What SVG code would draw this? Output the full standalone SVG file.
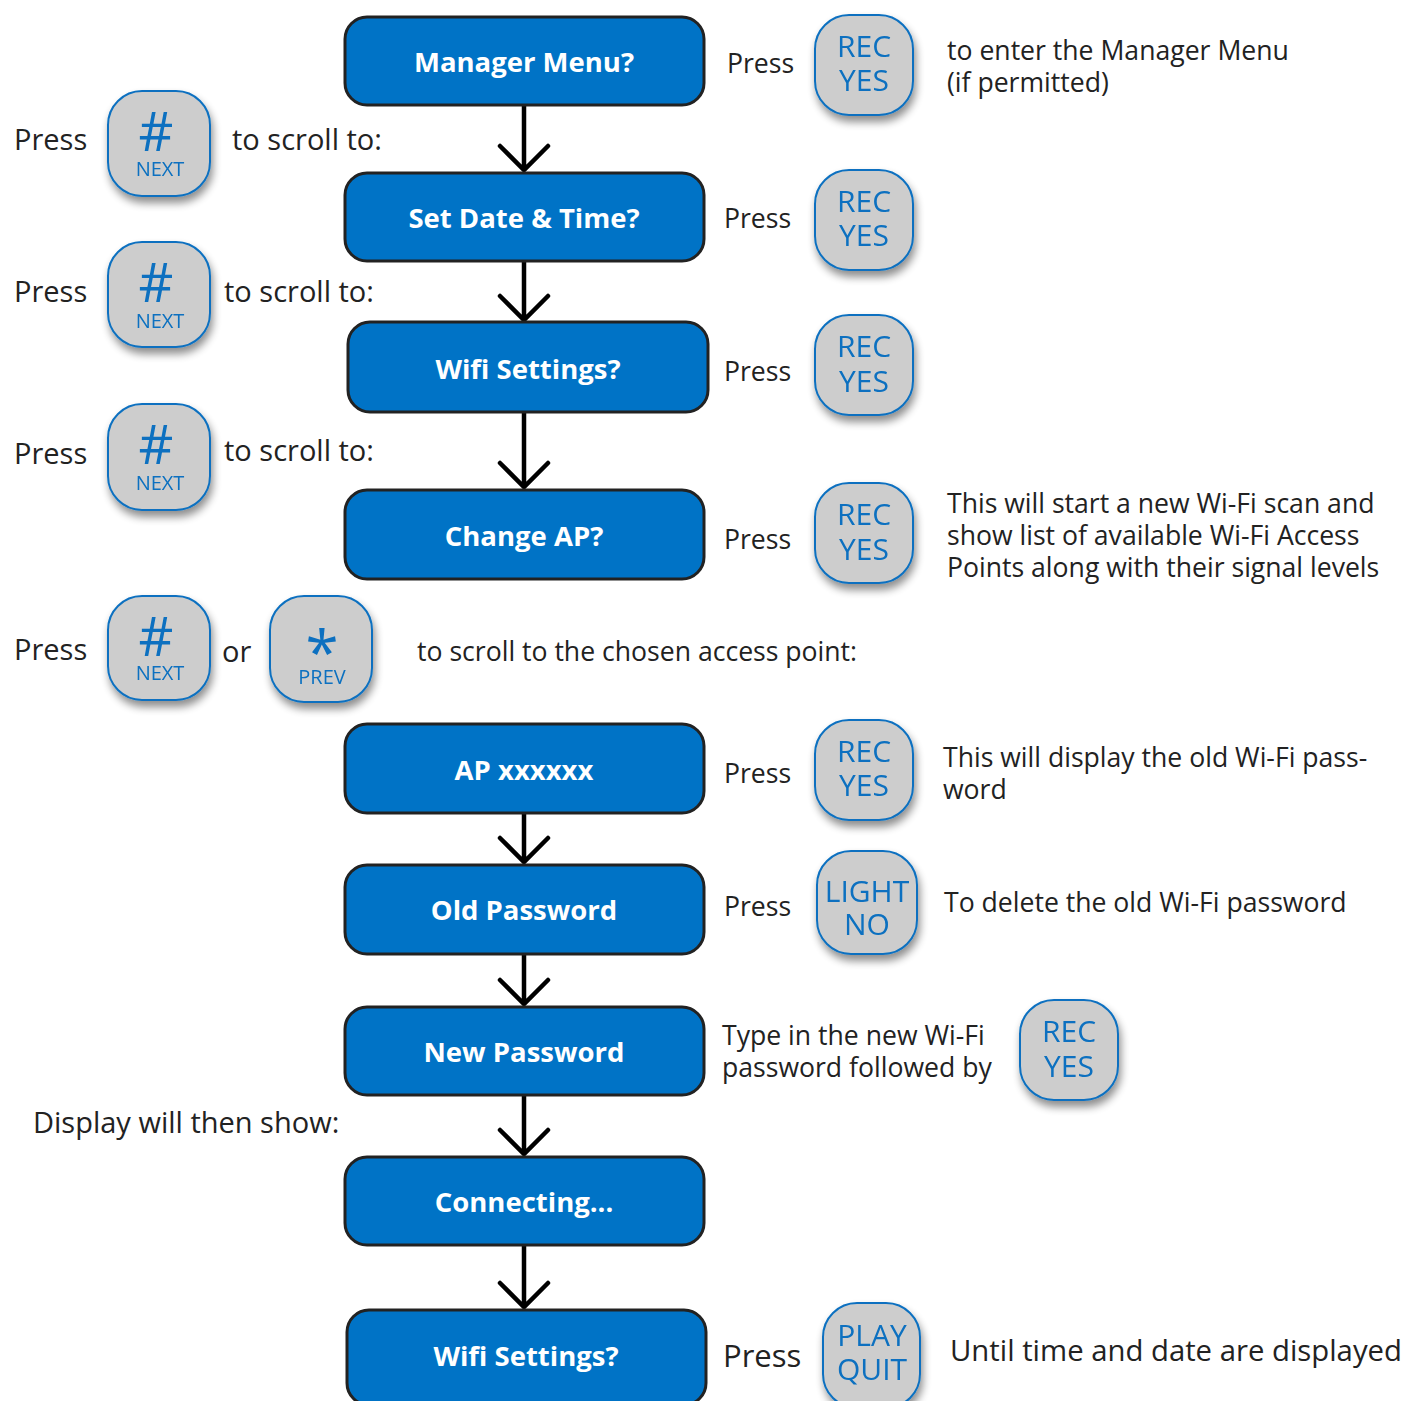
<svg xmlns="http://www.w3.org/2000/svg" width="1405" height="1401" viewBox="0 0 1405 1401">
<defs>
<filter id="sh" x="-30%" y="-30%" width="170%" height="170%">
<feGaussianBlur in="SourceAlpha" stdDeviation="4"/>
<feOffset dx="2" dy="6" result="b"/>
<feComponentTransfer><feFuncA type="linear" slope="0.45"/></feComponentTransfer>
<feMerge><feMergeNode/><feMergeNode in="SourceGraphic"/></feMerge>
</filter>
</defs>
<style>
.node rect{fill:#0073c6;stroke:#222;stroke-width:3}
.node text{font-family:"Open Sans",sans-serif;font-weight:bold;font-size:27.5px;fill:#fff;text-anchor:middle}
.btn rect{fill:#cdcdcd;stroke:#0a70c0;stroke-width:2}
.btn text{font-family:"Open Sans",sans-serif;fill:#0a70c0;text-anchor:middle}
.bt{font-size:30px}
.sm{font-size:20px}
.hash{font-size:54px}
.lbl{font-family:"Open Sans",sans-serif;font-size:29px;fill:#222}
.desc{font-family:"Open Sans",sans-serif;font-size:26.6px;fill:#222}
.conn path{fill:none;stroke:#000;stroke-width:4.5;stroke-linecap:round;stroke-linejoin:miter}
</style>
<rect width="1405" height="1401" fill="#fff"/>

<g class="conn" id="connectors">
<path d="M524 105V170M500 146L524 170L548 146"/>
<path d="M524 261V320M500 296L524 320L548 296"/>
<path d="M524 412V487M500 463L524 487L548 463"/>
<path d="M524 813V862M500 838L524 862L548 838"/>
<path d="M524 954V1004M500 980L524 1004L548 980"/>
<path d="M524 1095V1154M500 1130L524 1154L548 1130"/>
<path d="M524 1245V1307M500 1283L524 1307L548 1283"/>
</g>

<g class="node" id="n1"><rect x="345" y="17" width="359" height="88" rx="22"/><text x="524" y="72">Manager Menu?</text></g>
<g class="node" id="n2"><rect x="345" y="173" width="359" height="88" rx="22"/><text x="524" y="228">Set Date &amp; Time?</text></g>
<g class="node" id="n3"><rect x="348" y="322" width="360" height="90" rx="22"/><text x="528" y="379">Wifi Settings?</text></g>
<g class="node" id="n4"><rect x="345" y="490" width="359" height="89" rx="22"/><text x="524" y="546">Change AP?</text></g>
<g class="node" id="n5"><rect x="345" y="724" width="359" height="89" rx="22"/><text x="524" y="780">AP xxxxxx</text></g>
<g class="node" id="n6"><rect x="345" y="865" width="359" height="89" rx="22"/><text x="524" y="920">Old Password</text></g>
<g class="node" id="n7"><rect x="345" y="1007" width="359" height="88" rx="22"/><text x="524" y="1062">New Password</text></g>
<g class="node" id="n8"><rect x="345" y="1157" width="359" height="88" rx="22"/><text x="524" y="1212">Connecting...</text></g>
<g class="node" id="n9"><rect x="347" y="1310" width="359" height="95" rx="22"/><text x="526" y="1366">Wifi Settings?</text></g>

<g class="btn" id="b1" filter="url(#sh)"><rect x="815" y="15" width="98" height="100" rx="34"/><text class="bt" x="864" y="57">REC</text><text class="bt" x="864" y="91">YES</text></g>
<g class="btn" id="b2" filter="url(#sh)"><rect x="815" y="170" width="98" height="100" rx="34"/><text class="bt" x="864" y="212">REC</text><text class="bt" x="864" y="246">YES</text></g>
<g class="btn" id="b3" filter="url(#sh)"><rect x="815" y="315" width="98" height="100" rx="34"/><text class="bt" x="864" y="357">REC</text><text class="bt" x="864" y="392">YES</text></g>
<g class="btn" id="b4" filter="url(#sh)"><rect x="815" y="483" width="98" height="100" rx="34"/><text class="bt" x="864" y="525">REC</text><text class="bt" x="864" y="560">YES</text></g>
<g class="btn" id="b5" filter="url(#sh)"><rect x="815" y="720" width="98" height="100" rx="34"/><text class="bt" x="864" y="762">REC</text><text class="bt" x="864" y="796">YES</text></g>
<g class="btn" id="b6" filter="url(#sh)"><rect x="817" y="851" width="100" height="103" rx="34"/><text class="bt" x="867" y="902">LIGHT</text><text class="bt" x="867" y="935">NO</text></g>
<g class="btn" id="b7" filter="url(#sh)"><rect x="1020" y="1000" width="98" height="100" rx="34"/><text class="bt" x="1069" y="1042">REC</text><text class="bt" x="1069" y="1077">YES</text></g>
<g class="btn" id="b8" filter="url(#sh)"><rect x="823" y="1303" width="97" height="105" rx="34"/><text class="bt" x="872" y="1346">PLAY</text><text class="bt" x="872" y="1380">QUIT</text></g>

<g class="btn" id="k1" filter="url(#sh)"><rect x="108" y="91" width="102" height="105" rx="34"/><text class="hash" x="156" y="151">#</text><text class="sm" x="160" y="176">NEXT</text></g>
<g class="btn" id="k2" filter="url(#sh)"><rect x="108" y="242" width="102" height="105" rx="34"/><text class="hash" x="156" y="302">#</text><text class="sm" x="160" y="328">NEXT</text></g>
<g class="btn" id="k3" filter="url(#sh)"><rect x="108" y="404" width="102" height="106" rx="34"/><text class="hash" x="156" y="464">#</text><text class="sm" x="160" y="490">NEXT</text></g>
<g class="btn" id="k4" filter="url(#sh)"><rect x="108" y="596" width="102" height="104" rx="34"/><text class="hash" x="156" y="656">#</text><text class="sm" x="160" y="680">NEXT</text></g>
<g class="btn" id="k5" filter="url(#sh)"><rect x="270" y="596" width="102" height="106" rx="34"/><text x="322" y="674" style="font-size:60px">*</text><text class="sm" x="322" y="684">PREV</text></g>

<g id="labels">
<text class="lbl" x="14" y="150">Press</text>
<text class="lbl" x="232" y="150">to scroll to:</text>
<text class="lbl" x="14" y="302">Press</text>
<text class="lbl" x="224" y="302">to scroll to:</text>
<text class="lbl" x="14" y="464">Press</text>
<text class="lbl" x="224" y="461">to scroll to:</text>
<text class="lbl" x="14" y="660">Press</text>
<text class="lbl" x="222" y="662">or</text>
<text class="desc" x="417" y="661">to scroll to the chosen access point:</text>
<text class="lbl" x="33" y="1133">Display will then show:</text>

<text class="desc" x="727" y="73">Press</text>
<text class="desc" x="947" y="60">to enter the Manager Menu</text>
<text class="desc" x="947" y="92">(if permitted)</text>
<text class="desc" x="724" y="228">Press</text>
<text class="desc" x="724" y="381">Press</text>
<text class="desc" x="724" y="549">Press</text>
<text class="desc" x="947" y="513">This will start a new Wi-Fi scan and</text>
<text class="desc" x="947" y="545">show list of available Wi-Fi Access</text>
<text class="desc" x="947" y="577">Points along with their signal levels</text>
<text class="desc" x="724" y="783">Press</text>
<text class="desc" x="943" y="767">This will display the old Wi-Fi pass-</text>
<text class="desc" x="943" y="799">word</text>
<text class="desc" x="724" y="916">Press</text>
<text class="desc" x="944" y="912">To delete the old Wi-Fi password</text>
<text class="desc" x="722" y="1045">Type in the new Wi-Fi</text>
<text class="desc" x="722" y="1077">password followed by</text>
<text class="lbl" x="723" y="1367" style="font-size:31px">Press</text>
<text class="lbl" x="950" y="1361" style="font-size:29.3px">Until time and date are displayed</text>
</g>
</svg>
